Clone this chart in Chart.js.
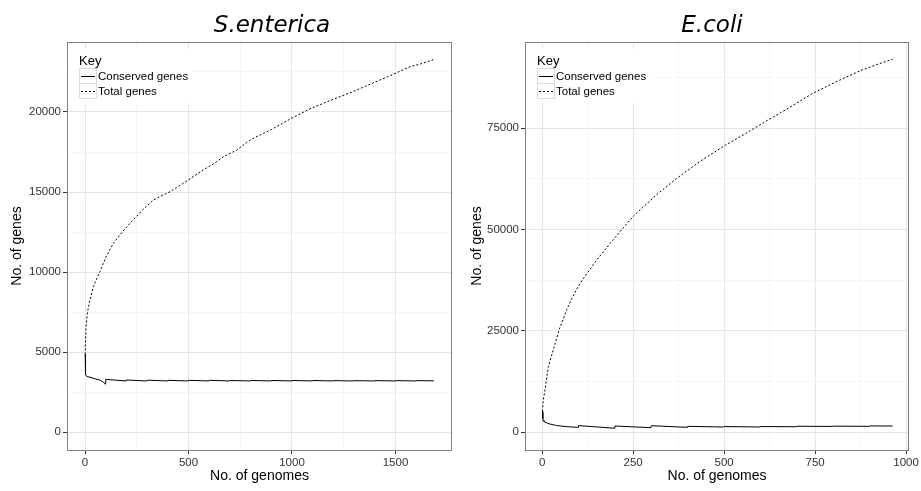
<!DOCTYPE html>
<html>
<head>
<meta charset="utf-8">
<script src="https://cdn.jsdelivr.net/npm/chart.js@4.4.1/dist/chart.umd.min.js"></script>
<style>
  body { margin: 0; background: #fff; }
  .panel { position: absolute; top: 0; height: 491px; }
  #left { left: 0; width: 460px; }
  #right { left: 460px; width: 461px; }
</style>
</head>
<body>
<div class="panel" id="left"><canvas id="chartS"></canvas></div>
<div class="panel" id="right"><canvas id="chartE"></canvas></div>
<script>
// S.enterica
const sentericaTotalX = [1, 2, 5, 12, 24, 40, 72, 100, 137, 180, 225, 280, 330, 411, 499, 571, 620, 668, 733, 797, 845, 900, 990, 1087, 1190, 1295, 1380, 1470, 1570, 1620, 1685];
const sentericaTotal = [4850, 5600, 6500, 7500, 8250, 9080, 10020, 10900, 11790, 12500, 13150, 13900, 14500, 15020, 15750, 16380, 16750, 17200, 17620, 18250, 18560, 18900, 19550, 20200, 20750, 21270, 21750, 22250, 22830, 23000, 23280];
const sentericaConsX = [1, 2, 3, 5, 10, 24, 50, 72, 90, 99, 100, 199, 200, 299, 300, 399, 400, 499, 500, 599, 600, 699, 700, 799, 800, 899, 900, 999, 1000, 1099, 1100, 1199, 1200, 1299, 1300, 1399, 1400, 1499, 1500, 1599, 1600, 1685];
const sentericaCons = [4850, 3770, 3620, 3520, 3470, 3420, 3320, 3250, 3100, 2990, 3290, 3190, 3250, 3190, 3240, 3190, 3230, 3190, 3230, 3190, 3230, 3190, 3220, 3190, 3220, 3190, 3220, 3190, 3220, 3190, 3220, 3190, 3210, 3190, 3210, 3190, 3210, 3190, 3210, 3190, 3210, 3200];
const sentericaXLabels = [0, 500, 1000, 1500];
const sentericaXMinor = [250, 750, 1250];
const sentericaYLabels = [0, 5000, 10000, 15000, 20000];
const sentericaYMinor = [2500, 7500, 12500, 17500, 22500];

// E.coli
const ecoliTotalX = [1, 3, 8, 17, 36, 48, 54, 68, 82, 104, 150, 187, 223, 251, 315, 370, 434, 500, 560, 617, 645, 700, 745, 800, 874, 920, 963];
const ecoliTotal = [5100, 7800, 10400, 16100, 21900, 25600, 26900, 30300, 33000, 36700, 42450, 46570, 50400, 53300, 58600, 62600, 66800, 70600, 73700, 76800, 78240, 81200, 83660, 86100, 89170, 90700, 92000];
const ecoliConsX = [1, 2, 3, 5, 8, 15, 22, 40, 68, 99, 100, 199, 200, 299, 300, 399, 400, 499, 500, 599, 600, 699, 700, 799, 800, 899, 900, 963];
const ecoliCons = [5100, 3300, 2900, 2600, 2450, 2150, 1950, 1600, 1310, 1150, 1580, 930, 1480, 1070, 1560, 1150, 1400, 1230, 1350, 1230, 1350, 1300, 1420, 1380, 1450, 1400, 1500, 1480];
const ecoliXLabels = [0, 250, 500, 750, 1000];
const ecoliXMinor = [125, 375, 625, 875];
const ecoliYLabels = [0, 25000, 50000, 75000];
const ecoliYMinor = [12500, 37500, 62500, 87500];

const seriesNames = ['Conserved genes', 'Total genes'];

Chart.defaults.font.family = '"Liberation Sans", Arial, sans-serif';
Chart.defaults.color = '#333';

const panelDecor = {
  id: 'panelDecor',
  afterDraw(chart, args, opts) {
    const ctx = chart.ctx;
    const a = chart.chartArea;
    ctx.save();

    // panel border
    ctx.strokeStyle = '#7f7f7f';
    ctx.lineWidth = 1;
    ctx.setLineDash([]);
    ctx.strokeRect(Math.round(a.left) + 0.5, Math.round(a.top) + 0.5,
      Math.round(a.right - a.left) - 1, Math.round(a.bottom - a.top));

    // key inside the panel
    const x0 = Math.round(a.left) + 12;
    const y0 = Math.round(a.top);
    ctx.fillStyle = '#fff';
    ctx.fillRect(x0 - 5, y0 + 7, 120, 54);
    ctx.fillStyle = '#000';
    ctx.font = '13px "Liberation Sans", Arial, sans-serif';
    ctx.textBaseline = 'alphabetic';
    ctx.fillText('Key', x0, y0 + 23);
    ctx.font = '11.5px "Liberation Sans", Arial, sans-serif';
    ctx.textBaseline = 'middle';
    chart.data.datasets.forEach((ds, i) => {
      const by = y0 + 26 + i * 15;
      ctx.setLineDash([]);
      ctx.strokeStyle = '#dcdcdc';
      ctx.strokeRect(x0 + 0.5, by + 0.5, 17, 15);
      ctx.strokeStyle = '#000';
      ctx.setLineDash(ds.borderDash || []);
      ctx.beginPath();
      ctx.moveTo(x0 + 2, by + 8.5);
      ctx.lineTo(x0 + 16, by + 8.5);
      ctx.stroke();
      ctx.fillStyle = '#000';
      ctx.fillText(ds.label, x0 + 19, by + 8.5);
    });

    // title
    ctx.setLineDash([]);
    ctx.font = 'italic 23px "DejaVu Sans", sans-serif';
    ctx.textAlign = 'center';
    ctx.textBaseline = 'alphabetic';
    ctx.fillStyle = '#000';
    ctx.fillText(opts.title, opts.titleX, 32);
    ctx.restore();
  }
};

function tickList(major, minor) {
  return major.concat(minor).sort((p, q) => p - q).map(v => ({ value: v }));
}

function makePanel(canvasId, p) {
  const isMajorX = v => p.xLabels.includes(v);
  const isMajorY = v => p.yLabels.includes(v);

  const chartData = {
    datasets: [
      {
        label: seriesNames[0],
        data: p.consX.map((g, i) => ({ x: g, y: p.cons[i] })),
        borderColor: '#000',
        borderWidth: 1,
        pointRadius: 0,
        tension: 0,
      },
      {
        label: seriesNames[1],
        data: p.totalX.map((g, i) => ({ x: g, y: p.total[i] })),
        borderColor: '#000',
        borderWidth: 1,
        borderDash: [2, 2],
        pointRadius: 0,
        tension: 0,
      },
    ],
  };

  const gridStyle = isMajor => ({
    color: ctx => isMajor(ctx.tick.value) ? '#e5e5e5' : '#f5f5f5',
    tickColor: ctx => isMajor(ctx.tick.value) ? '#333' : 'rgba(0,0,0,0)',
    tickLength: 4,
    lineWidth: 1,
  });

  const chartConfig = {
    type: 'line',
    data: chartData,
    options: {
      responsive: true,
      maintainAspectRatio: false,
      animation: false,
      devicePixelRatio: 1,
      layout: { padding: { top: 42, right: p.padRight, left: 0, bottom: 0 } },
      plugins: {
        legend: { display: false },
        tooltip: { enabled: false },
        panelDecor: { title: p.title, titleX: p.titleX },
      },
      scales: {
        x: {
          type: 'linear',
          min: p.xMin,
          max: p.xMax,
          afterBuildTicks: s => { s.ticks = tickList(p.xLabels, p.xMinor); },
          afterFit: s => { s.height = 41; },
          ticks: {
            autoSkip: false,
            maxRotation: 0,
            padding: 2,
            font: { size: 11.5 },
            callback: v => isMajorX(v) ? String(v) : '',
          },
          grid: gridStyle(isMajorX),
          border: { display: false },
          title: {
            display: true,
            text: 'No. of genomes',
            color: '#000',
            font: { size: 14 },
            padding: { top: 0, bottom: 6 },
          },
        },
        y: {
          type: 'linear',
          min: p.yMin,
          max: p.yMax,
          afterBuildTicks: s => { s.ticks = tickList(p.yLabels, p.yMinor); },
          afterFit: s => { s.width = p.yWidth; },
          ticks: {
            autoSkip: false,
            padding: 2,
            font: { size: 11.5 },
            callback: v => isMajorY(v) ? String(v) : '',
          },
          grid: gridStyle(isMajorY),
          border: { display: false },
          title: {
            display: true,
            text: 'No. of genes',
            color: '#000',
            font: { size: 14 },
            padding: { top: 9, bottom: 0 },
          },
        },
      },
    },
    plugins: [panelDecor],
  };

  return new Chart(document.getElementById(canvasId), chartConfig);
}

makePanel('chartS', {
  title: 'S.enterica', titleX: 272,
  totalX: sentericaTotalX, total: sentericaTotal,
  consX: sentericaConsX, cons: sentericaCons,
  xLabels: sentericaXLabels, xMinor: sentericaXMinor,
  yLabels: sentericaYLabels, yMinor: sentericaYMinor,
  xMin: -87, xMax: 1773, yMin: -1125, yMax: 24375,
  yWidth: 67, padRight: 8,
});

makePanel('chartE', {
  title: 'E.coli', titleX: 252,
  totalX: ecoliTotalX, total: ecoliTotal,
  consX: ecoliConsX, cons: ecoliCons,
  xLabels: ecoliXLabels, xMinor: ecoliXMinor,
  yLabels: ecoliYLabels, yMinor: ecoliYMinor,
  xMin: -47, xMax: 1008, yMin: -4440, yMax: 96250,
  yWidth: 65, padRight: 12,
});
</script>
</body>
</html>
